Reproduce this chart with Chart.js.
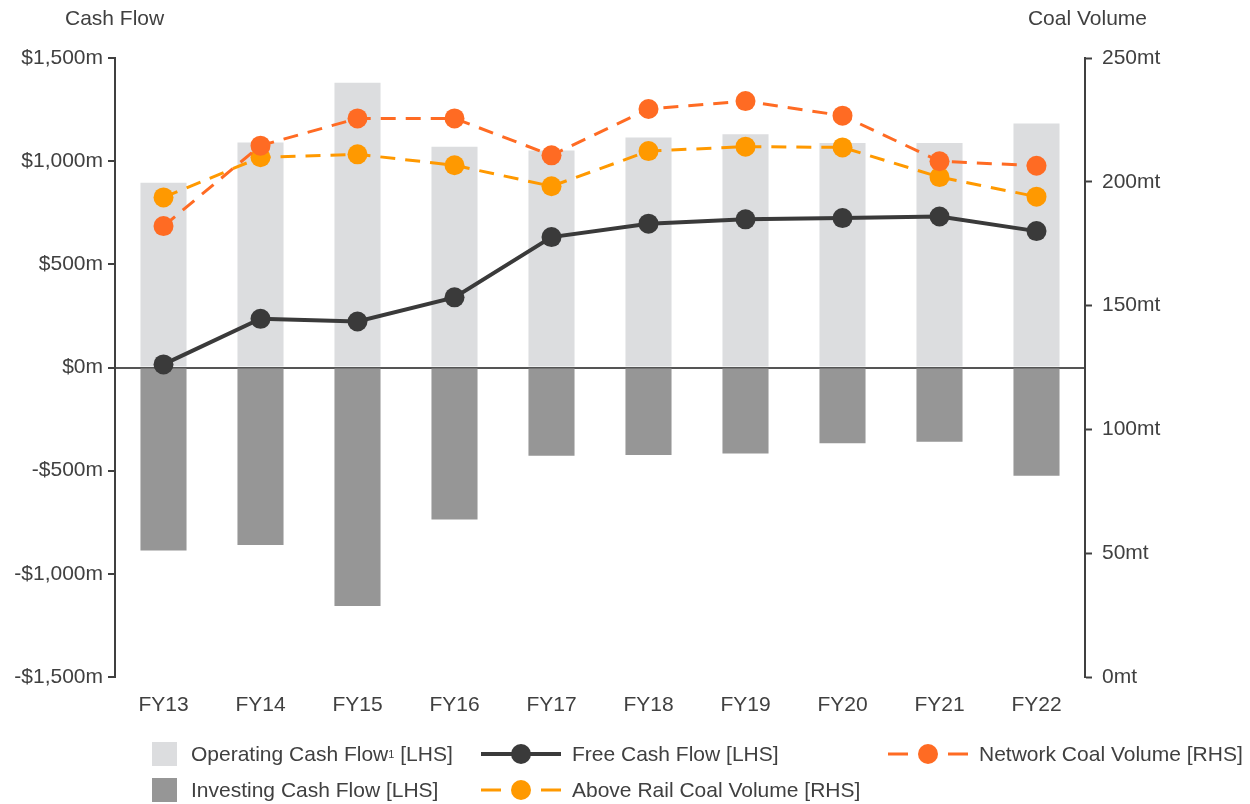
<!DOCTYPE html>
<html>
<head>
<meta charset="utf-8">
<script src="https://cdn.jsdelivr.net/npm/chart.js@4/dist/chart.umd.min.js"></script>
<style>
  body { margin: 0; background: #fff; font-family: "Liberation Sans", Arial, sans-serif; color: #404040; }
  #wrap { position: relative; width: 1250px; height: 804px; }
  .title { position: absolute; top: 6px; font-size: 21px; }
  .leg { position: absolute; display: flex; align-items: center; font-size: 21px; white-space: nowrap; }
  .leg svg { margin-right: 11px; }
  .leg svg.sq { margin-right: 14px; }
</style>
</head>
<body>
<div id="wrap">
  <canvas id="chart" width="1250" height="804"></canvas>
  <div class="title" style="left:65px">Cash Flow</div>
  <div class="title" style="right:103px">Coal Volume</div>

  <div class="leg" style="left:152px; top:742px"><svg class="sq" width="25" height="24"><rect width="25" height="24" fill="#dcdddf"/></svg>Operating Cash Flow<sup style="font-size:11px">1</sup>&nbsp;[LHS]</div>
  <div class="leg" style="left:152px; top:778px"><svg class="sq" width="25" height="24"><rect width="25" height="24" fill="#969696"/></svg>Investing Cash Flow [LHS]</div>
  <div class="leg" style="left:481px; top:742px"><svg width="80" height="24"><line x1="0" y1="12" x2="80" y2="12" stroke="#3a3a3a" stroke-width="4"/><circle cx="40" cy="12" r="10" fill="#3a3a3a"/></svg>Free Cash Flow [LHS]</div>
  <div class="leg" style="left:481px; top:778px"><svg width="80" height="24"><line x1="0" y1="12" x2="80" y2="12" stroke="#ff9900" stroke-width="3" stroke-dasharray="20 40 20"/><circle cx="40" cy="12" r="10" fill="#ff9900"/></svg>Above Rail Coal Volume [RHS]</div>
  <div class="leg" style="left:888px; top:742px"><svg width="80" height="24"><line x1="0" y1="12" x2="80" y2="12" stroke="#ff6b23" stroke-width="3" stroke-dasharray="20 40 20"/><circle cx="40" cy="12" r="10" fill="#ff6b23"/></svg>Network Coal Volume [RHS]</div>
</div>
<script>
const years = ["FY13", "FY14", "FY15", "FY16", "FY17", "FY18", "FY19", "FY20", "FY21", "FY22"];
const operatingCF = [895, 1090, 1380, 1070, 1052, 1115, 1130, 1088, 1088, 1183];
const investingCF = [-887, -860, -1156, -737, -428, -424, -417, -367, -360, -525];
const freeCF = [15, 236, 223, 340, 632, 697, 718, 724, 732, 661];
const networkVol = [182.1, 214.6, 225.6, 225.6, 210.7, 229.4, 232.6, 226.7, 208.3, 206.5];
const aboveRailVol = [193.7, 209.9, 211.1, 206.7, 198.2, 212.4, 214.2, 213.9, 201.9, 194.0];
const cashTicks = ["-$1,500m", "-$1,000m", "-$500m", "$0m", "$500m", "$1,000m", "$1,500m"];
const volTicks = ["0mt", "50mt", "100mt", "150mt", "200mt", "250mt"];

const axisColor = "#404040";
const font = { family: "'Liberation Sans', Arial, sans-serif", size: 21 };

new Chart(document.getElementById("chart").getContext("2d"), {
  data: {
    labels: years,
    datasets: [
      {
        type: "line", label: "Network Coal Volume [RHS]", data: networkVol, yAxisID: "y2", order: 1,
        borderColor: "#ff6b23", backgroundColor: "#ff6b23", borderWidth: 3, borderDash: [15, 10],
        pointRadius: 10, pointHoverRadius: 10, pointBorderWidth: 0, tension: 0
      },
      {
        type: "line", label: "Above Rail Coal Volume [RHS]", data: aboveRailVol, yAxisID: "y2", order: 2,
        borderColor: "#ff9900", backgroundColor: "#ff9900", borderWidth: 3, borderDash: [15, 10],
        pointRadius: 10, pointHoverRadius: 10, pointBorderWidth: 0, tension: 0
      },
      {
        type: "line", label: "Free Cash Flow [LHS]", data: freeCF, yAxisID: "y", order: 3,
        borderColor: "#3a3a3a", backgroundColor: "#3a3a3a", borderWidth: 4,
        pointRadius: 10, pointHoverRadius: 10, pointBorderWidth: 0, tension: 0
      },
      {
        type: "bar", label: "Operating Cash Flow [LHS]", data: operatingCF, yAxisID: "y", order: 10,
        backgroundColor: "#dcdddf", grouped: false, barPercentage: 0.475, categoryPercentage: 1
      },
      {
        type: "bar", label: "Investing Cash Flow [LHS]", data: investingCF, yAxisID: "y", order: 11,
        backgroundColor: "#969696", grouped: false, barPercentage: 0.475, categoryPercentage: 1
      }
    ]
  },
  options: {
    responsive: false,
    animation: false,
    layout: { padding: { top: 58, bottom: 87, left: 0, right: 0 } },
    plugins: { legend: { display: false }, tooltip: { enabled: false } },
    scales: {
      x: {
        offset: true,
        grid: { display: false },
        border: { display: false },
        ticks: { color: axisColor, font: font, padding: 8 },
        afterFit: s => { s.height = 40; }
      },
      y: {
        position: "left",
        min: -1500, max: 1500,
        ticks: { stepSize: 500, color: axisColor, font: font, padding: 5, callback: (v, i) => cashTicks[i] },
        grid: {
          drawOnChartArea: true, drawTicks: true, tickLength: 7, tickColor: axisColor, tickWidth: 2,
          color: c => (c.tick && c.tick.value === 0) ? "#555555" : "rgba(0,0,0,0)", lineWidth: 2
        },
        border: { display: true, color: axisColor, width: 2 },
        afterFit: s => { s.width = 115; }
      },
      y2: {
        position: "right",
        min: 0, max: 250,
        ticks: { stepSize: 50, color: axisColor, font: font, padding: 10, callback: (v, i) => volTicks[i] },
        grid: { drawOnChartArea: false, drawTicks: true, tickLength: 7, tickColor: axisColor, tickWidth: 2 },
        border: { display: true, color: axisColor, width: 2 },
        afterFit: s => { s.width = 165; }
      }
    }
  }
});
</script>
</body>
</html>
